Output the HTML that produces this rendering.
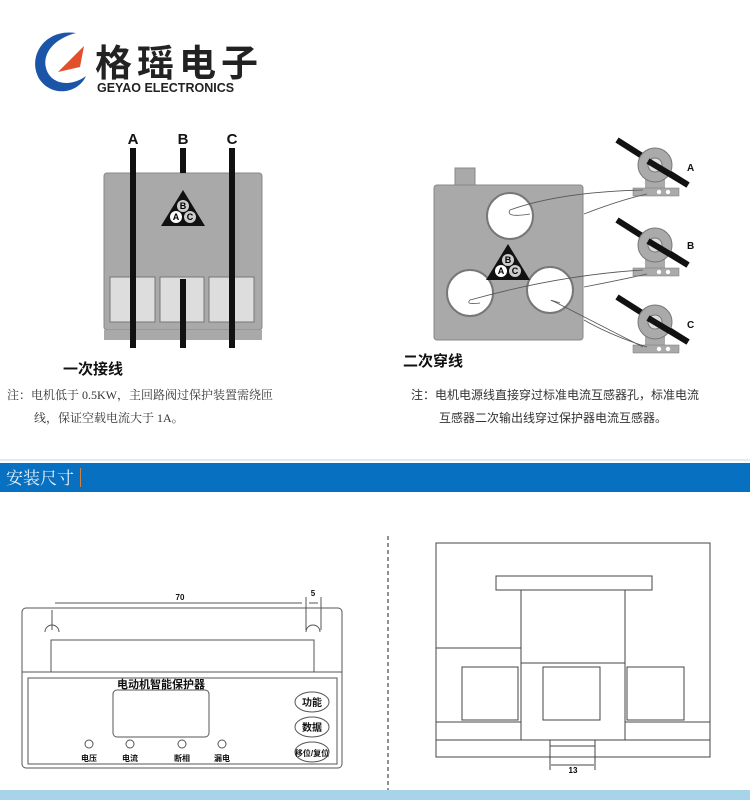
<!DOCTYPE html>
<html><head><meta charset="utf-8"><style>
html,body{margin:0;padding:0;background:#fff;width:750px;height:800px;overflow:hidden}
</style></head><body>
<svg width="750" height="800" viewBox="0 0 750 800" xmlns="http://www.w3.org/2000/svg" style="display:block">
<defs>
<g id="tri">
 <polygon points="0,-18 -22,18 22,18" fill="#111"/>
 <circle cx="0" cy="-2" r="6" fill="#ccc"/><circle cx="-7" cy="9" r="6" fill="#fff"/><circle cx="7" cy="9" r="6" fill="#ccc"/>
 <text x="0" y="1" font-size="9" text-anchor="middle" font-family="Liberation Sans,sans-serif" font-weight="bold">B</text>
 <text x="-7" y="12" font-size="9" text-anchor="middle" font-family="Liberation Sans,sans-serif" font-weight="bold">A</text>
 <text x="7" y="12" font-size="9" text-anchor="middle" font-family="Liberation Sans,sans-serif" font-weight="bold">C</text>
</g>
<g id="ct">
 <line x1="-38" y1="-25" x2="33" y2="20" stroke="#111" stroke-width="6"/>
 <path d="M-10 14 L-10 24 L10 24 L10 14 Z" fill="#aaa"/>
 <rect x="-22" y="23" width="46" height="8" fill="#aaa" stroke="#777" stroke-width="0.5"/>
 <circle cx="0" cy="0" r="17" fill="#aaa" stroke="#777"/>
 <circle cx="0" cy="0" r="7" fill="#ddd" stroke="#777"/>
 <line x1="-7" y1="-4" x2="33" y2="20" stroke="#111" stroke-width="6"/>
 <circle cx="4" cy="27" r="2.2" fill="#fff"/><circle cx="13" cy="27" r="2.2" fill="#fff"/>
</g>
</defs>
<!-- logo -->
<path d="M76 33 C44 28 26 58 40 80 C52 97 78 94 86 76 C70 88 50 84 46 68 C42 52 56 38 76 33Z" fill="#1a55a8"/>
<path d="M84 46 L58 72 L80 67 Z" fill="#e0502a"/>
<text x="95" y="76" font-size="37" font-weight="bold" font-family="Liberation Sans,'Noto Sans CJK SC',sans-serif" fill="#222" letter-spacing="5">格瑶电子</text>
<text x="97" y="92" font-size="12.5" font-weight="bold" font-family="Liberation Sans,sans-serif" fill="#222">GEYAO ELECTRONICS</text>

<!-- left primary wiring -->
<rect x="104" y="173" width="158" height="157" rx="3" fill="#a9a9a9" stroke="#888"/>
<rect x="104" y="330" width="158" height="10" fill="#a9a9a9"/>
<g fill="#ddd" stroke="#777">
<rect x="110" y="277" width="45" height="45"/><rect x="160" y="277" width="44" height="45"/><rect x="209" y="277" width="45" height="45"/>
</g>
<use href="#tri" x="183" y="208"/>
<g fill="#111">
<rect x="130" y="148" width="6" height="200"/><rect x="180" y="148" width="6" height="25"/><rect x="180" y="279" width="6" height="69"/><rect x="229" y="148" width="6" height="200"/>
</g>
<g font-family="Liberation Sans,sans-serif" font-size="15" font-weight="bold" fill="#111" text-anchor="middle">
<text x="133" y="144">A</text><text x="183" y="144">B</text><text x="232" y="144">C</text></g>
<text x="63" y="374" font-size="15" font-weight="bold" font-family="Liberation Sans,'Noto Sans CJK SC',sans-serif" fill="#111">一次接线</text>
<g font-size="12" font-family="'Liberation Serif','Noto Serif CJK SC',serif" fill="#333">
<text x="7" y="399">注：电机低于 0.5KW，主回路阀过保护装置需绕匝</text>
<text x="34" y="422">线，保证空载电流大于 1A。</text>
</g>

<!-- right secondary wiring -->
<rect x="455" y="168" width="20" height="18" fill="#a9a9a9" stroke="#888"/>
<rect x="434" y="185" width="149" height="155" rx="3" fill="#a9a9a9" stroke="#888"/>
<g fill="#fff" stroke="#777" stroke-width="2">
<circle cx="510" cy="216" r="23"/><circle cx="470" cy="293" r="23"/><circle cx="550" cy="290" r="23"/></g>
<use href="#tri" x="508" y="262"/>
<use href="#ct" x="655" y="165"/>
<use href="#ct" x="655" y="245"/>
<use href="#ct" x="655" y="322"/>
<g fill="none" stroke="#555" stroke-width="0.8">
<path d="M643 190 Q560 192 510 210 Q505 218 530 214"/>
<path d="M647 194 Q620 200 584 214"/>
<path d="M643 270 Q560 275 470 300 Q465 305 480 303"/>
<path d="M647 274 Q620 280 584 287"/>
<path d="M643 347 Q590 320 555 302 Q545 298 560 303"/>
<path d="M647 347 Q610 335 584 320"/>
</g>
<g font-family="Liberation Sans,sans-serif" font-size="10" font-weight="bold" fill="#111">
<text x="687" y="171">A</text><text x="687" y="249">B</text><text x="687" y="328">C</text></g>
<text x="403" y="366" font-size="15" font-weight="bold" font-family="Liberation Sans,'Noto Sans CJK SC',sans-serif" fill="#111">二次穿线</text>
<g font-size="12" font-family="'Liberation Sans','Noto Sans CJK SC',sans-serif" fill="#333">
<text x="411" y="399">注：电机电源线直接穿过标准电流互感器孔，标准电流</text>
<text x="439" y="422">互感器二次输出线穿过保护器电流互感器。</text>
</g>

<!-- banner -->
<rect x="0" y="459" width="750" height="2" fill="#d8eef8"/>
<rect x="0" y="463" width="750" height="29" fill="#0870c0"/>
<text x="6" y="484" font-size="17" fill="#e8f0f8" font-family="'Liberation Serif','Noto Serif CJK SC',serif">安装尺寸</text>
<rect x="80" y="468" width="1" height="19" fill="#d08040"/>

<!-- left device -->
<g fill="none" stroke="#555" stroke-width="1">
<rect x="22" y="608" width="320" height="160" rx="4"/>
<line x1="22" y1="672" x2="342" y2="672"/>
<rect x="51" y="640" width="263" height="32"/>
<rect x="28" y="678" width="309" height="86"/>
<rect x="113" y="690" width="96" height="47" rx="4"/>
<path d="M45 632 A7 7 0 0 1 59 632"/><path d="M306 632 A7 7 0 0 1 320 632"/>
<line x1="52" y1="610" x2="52" y2="630"/>
<line x1="306" y1="597" x2="306" y2="630"/><line x1="321" y1="597" x2="321" y2="630"/>
<line x1="55" y1="603" x2="302" y2="603"/>
<line x1="309" y1="603" x2="318" y2="603"/>
<ellipse cx="312" cy="702" rx="17" ry="10"/><ellipse cx="312" cy="727" rx="17" ry="10"/><ellipse cx="312" cy="752" rx="17" ry="10"/>
<circle cx="89" cy="744" r="4"/><circle cx="130" cy="744" r="4"/><circle cx="182" cy="744" r="4"/><circle cx="222" cy="744" r="4"/>
</g>
<g font-family="Liberation Sans,'Noto Sans CJK SC',sans-serif" fill="#111" font-weight="bold" text-anchor="middle">
<text x="180" y="600" font-size="8">70</text><text x="313" y="596" font-size="8">5</text>
<text x="161" y="688" font-size="11">电动机智能保护器</text>
<text x="312" y="706" font-size="10">功能</text><text x="312" y="731" font-size="10">数据</text><text x="312" y="756" font-size="8">移位/复位</text>
<text x="89" y="761" font-size="8">电压</text><text x="130" y="761" font-size="8">电流</text><text x="182" y="761" font-size="8">断相</text><text x="222" y="761" font-size="8">漏电</text>
</g>

<line x1="388" y1="536" x2="388" y2="800" stroke="#222" stroke-dasharray="4,3"/>

<!-- right device -->
<g fill="none" stroke="#444" stroke-width="1">
<rect x="436" y="543" width="274" height="214"/>
<rect x="496" y="576" width="156" height="14"/>
<path d="M521 590 V740 H625 V590"/>
<line x1="521" y1="663" x2="625" y2="663"/>
<line x1="436" y1="648" x2="521" y2="648"/>
<rect x="462" y="667" width="56" height="53"/><rect x="543" y="667" width="57" height="53"/><rect x="627" y="667" width="57" height="53"/>
<line x1="436" y1="722" x2="521" y2="722"/><line x1="625" y1="722" x2="710" y2="722"/>
<line x1="436" y1="740" x2="521" y2="740"/><line x1="625" y1="740" x2="710" y2="740"/>
<rect x="550" y="740" width="45" height="17"/>
<line x1="550" y1="746" x2="595" y2="746"/>
<line x1="550" y1="757" x2="550" y2="770"/><line x1="595" y1="757" x2="595" y2="770"/>
<line x1="551" y1="765" x2="594" y2="765"/>
</g>
<text x="573" y="773" font-size="8" font-weight="bold" text-anchor="middle" font-family="Liberation Sans,sans-serif">13</text>

<!-- bottom strip -->
<rect x="0" y="790" width="750" height="10" fill="#a8d4ea"/>
</svg>
</body></html>
